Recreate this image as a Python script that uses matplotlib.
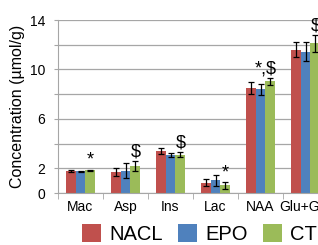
import numpy as np
import matplotlib.pyplot as plt

plt.rcParams['font.family'] = ['Liberation Sans', 'DejaVu Sans']

categories = ['Mac', 'Asp', 'Ins', 'Lac', 'NAA', 'Glu+Gln']
nacl = [1.8, 1.7, 3.42, 0.84, 8.5, 11.6]
epo = [1.75, 1.8, 3.1, 1.02, 8.4, 11.45]
ctl = [1.85, 2.2, 3.1, 0.62, 9.03, 12.1]
nacl_err = [0.1, 0.3, 0.25, 0.3, 0.5, 0.6]
epo_err = [0.05, 0.6, 0.15, 0.45, 0.45, 0.75]
ctl_err = [0.05, 0.4, 0.2, 0.3, 0.25, 0.7]
marks = ['*', '$', '$', '*', '*,$', '$']

colors = ['#C0504D', '#4F81BD', '#9BBB59']

fig = plt.figure(figsize=(3.18, 2.45), dpi=100)
ax = fig.add_axes([58/318, 52/245, 270/318, 173/245])

x = np.arange(len(categories))
w = 0.22
series = [(nacl, nacl_err, 'NACL'), (epo, epo_err, 'EPO'), (ctl, ctl_err, 'CTL')]
for i, (vals, errs, lab) in enumerate(series):
    ax.bar(x + (i - 1) * w, vals, w, color=colors[i], label=lab, zorder=2,
           yerr=errs, error_kw=dict(ecolor='black', elinewidth=0.9, capsize=2, capthick=0.9))

for i, m in enumerate(marks):
    top = ctl[i] + ctl_err[i]
    xpos = x[i] + w
    if m == '*,$':
        xpos = x[i] + w * 0.5
    ax.text(xpos, top + 0.05, m, ha='center', va='bottom', fontsize=13)

ax.set_ylim(0, 14)
ax.set_xlim(-0.5, len(categories) - 0.5)
ax.set_yticks(np.arange(0, 15, 2))
ax.set_yticklabels(['0', '2', '', '6', '', '10', '', '14'], fontsize=10)
ax.yaxis.grid(True, color='#a6a6a6', linewidth=0.9, zorder=0)
ax.set_axisbelow(True)
ax.set_xticks(x)
ax.set_xticklabels(categories, fontsize=10)
ax.set_xticks(np.arange(-0.5, len(categories), 1), minor=True)
ax.tick_params(axis='x', which='major', length=0, pad=5)
ax.tick_params(axis='x', which='minor', length=4, color='#a6a6a6')
ax.tick_params(axis='y', length=3, color='#a6a6a6', pad=6)
for s in ['top', 'right']:
    ax.spines[s].set_visible(False)
for s in ['left', 'bottom']:
    ax.spines[s].set_color('#a6a6a6')

ax.set_ylabel('Concentration (µmol/g)', fontsize=11.5, labelpad=4)

fig.legend(loc='lower left', bbox_to_anchor=(70/318, -0.045), ncol=3, frameon=False,
           fontsize=14.5, handlelength=0.95, handleheight=0.95, handletextpad=0.4,
           columnspacing=0.75, borderaxespad=0.2)

fig.savefig('out.png', dpi=100)
